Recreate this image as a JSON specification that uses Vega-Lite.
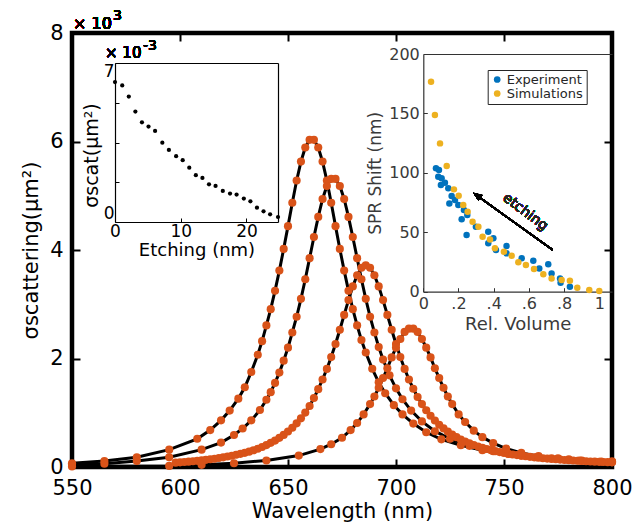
{
  "$schema": "https://vega.github.io/schema/vega-lite/v6.json",
  "width": 540,
  "height": 434,
  "autosize": {"type": "none"},
  "padding": {"left": 72, "top": 33, "right": 21, "bottom": 57},
  "background": "white",
  "config": {
    "font": "DejaVu Sans",
    "view": {"stroke": "black", "strokeWidth": 4.5},
    "axis": {"labelFlush": false, "titleFontWeight": "normal", "grid": false, "labelFont": "DejaVu Sans", "titleFont": "DejaVu Sans", "labelOverlap": false},
    "text": {"font": "DejaVu Sans"}
  },
  "datasets": {
    "spectra": [
      {"c":"1","w":550,"s":0.07},{"c":"1","w":565,"s":0.11},{"c":"1","w":580,"s":0.18},{"c":"1","w":595,"s":0.32},{"c":"1","w":608,"s":0.52},{"c":"1","w":614,"s":0.68},{"c":"1","w":619,"s":0.86},{"c":"1","w":623,"s":1.04},{"c":"1","w":627,"s":1.26},{"c":"1","w":630,"s":1.47},{"c":"1","w":633,"s":1.75},{"c":"1","w":636,"s":2.07},{"c":"1","w":638,"s":2.32},{"c":"1","w":640,"s":2.61},{"c":"1","w":642,"s":2.91},{"c":"1","w":644,"s":3.25},{"c":"1","w":646,"s":3.62},{"c":"1","w":648,"s":4.02},{"c":"1","w":650,"s":4.44},{"c":"1","w":652,"s":4.87},{"c":"1","w":654,"s":5.28},{"c":"1","w":656,"s":5.63},{"c":"1","w":658,"s":5.89},{"c":"1","w":660,"s":6.03},{"c":"1","w":662,"s":6.03},{"c":"1","w":664,"s":5.89},{"c":"1","w":666,"s":5.63},{"c":"1","w":668,"s":5.28},{"c":"1","w":670,"s":4.87},{"c":"1","w":672,"s":4.44},{"c":"1","w":674,"s":4.02},{"c":"1","w":676,"s":3.62},{"c":"1","w":678,"s":3.25},{"c":"1","w":680,"s":2.91},{"c":"1","w":682,"s":2.61},{"c":"1","w":684,"s":2.34},{"c":"1","w":686,"s":2.11},{"c":"1","w":689,"s":1.81},{"c":"1","w":692,"s":1.56},{"c":"1","w":695,"s":1.36},{"c":"1","w":699,"s":1.14},{"c":"1","w":703,"s":0.97},{"c":"1","w":708,"s":0.80},{"c":"1","w":714,"s":0.64},{"c":"1","w":721,"s":0.51},{"c":"1","w":730,"s":0.40},{"c":"1","w":740,"s":0.31},{"c":"1","w":752,"s":0.24},{"c":"1","w":765,"s":0.18},{"c":"1","w":780,"s":0.14},{"c":"1","w":800,"s":0.10},
      {"c":"2","w":550,"s":0.04},{"c":"2","w":565,"s":0.06},{"c":"2","w":580,"s":0.11},{"c":"2","w":595,"s":0.18},{"c":"2","w":610,"s":0.32},{"c":"2","w":619,"s":0.45},{"c":"2","w":625,"s":0.59},{"c":"2","w":629,"s":0.71},{"c":"2","w":633,"s":0.86},{"c":"2","w":637,"s":1.05},{"c":"2","w":640,"s":1.24},{"c":"2","w":642,"s":1.38},{"c":"2","w":644,"s":1.55},{"c":"2","w":646,"s":1.74},{"c":"2","w":648,"s":1.96},{"c":"2","w":650,"s":2.20},{"c":"2","w":652,"s":2.48},{"c":"2","w":654,"s":2.77},{"c":"2","w":656,"s":3.10},{"c":"2","w":658,"s":3.46},{"c":"2","w":660,"s":3.85},{"c":"2","w":662,"s":4.24},{"c":"2","w":664,"s":4.61},{"c":"2","w":666,"s":4.94},{"c":"2","w":668,"s":5.18},{"c":"2","w":670,"s":5.31},{"c":"2","w":672,"s":5.31},{"c":"2","w":674,"s":5.18},{"c":"2","w":676,"s":4.94},{"c":"2","w":678,"s":4.61},{"c":"2","w":680,"s":4.24},{"c":"2","w":682,"s":3.85},{"c":"2","w":684,"s":3.46},{"c":"2","w":686,"s":3.10},{"c":"2","w":688,"s":2.77},{"c":"2","w":690,"s":2.48},{"c":"2","w":692,"s":2.21},{"c":"2","w":694,"s":1.98},{"c":"2","w":697,"s":1.69},{"c":"2","w":700,"s":1.45},{"c":"2","w":703,"s":1.25},{"c":"2","w":707,"s":1.04},{"c":"2","w":712,"s":0.84},{"c":"2","w":718,"s":0.66},{"c":"2","w":725,"s":0.52},{"c":"2","w":734,"s":0.39},{"c":"2","w":745,"s":0.29},{"c":"2","w":758,"s":0.21},{"c":"2","w":772,"s":0.16},{"c":"2","w":786,"s":0.12},{"c":"2","w":800,"s":0.10},
      {"c":"3","w":598,"s":0.080},{"c":"3","w":600,"s":0.086},{"c":"3","w":602,"s":0.092},{"c":"3","w":604,"s":0.098},{"c":"3","w":606,"s":0.105},{"c":"3","w":608,"s":0.113},{"c":"3","w":610,"s":0.122},{"c":"3","w":612,"s":0.132},{"c":"3","w":614,"s":0.142},{"c":"3","w":616,"s":0.153},{"c":"3","w":618,"s":0.165},{"c":"3","w":620,"s":0.178},{"c":"3","w":622,"s":0.193},{"c":"3","w":624,"s":0.208},{"c":"3","w":626,"s":0.225},{"c":"3","w":628,"s":0.242},{"c":"3","w":630,"s":0.261},{"c":"3","w":632,"s":0.283},{"c":"3","w":634,"s":0.308},{"c":"3","w":636,"s":0.337},{"c":"3","w":638,"s":0.368},{"c":"3","w":640,"s":0.404},{"c":"3","w":642,"s":0.445},{"c":"3","w":644,"s":0.487},{"c":"3","w":646,"s":0.538},{"c":"3","w":648,"s":0.592},{"c":"3","w":650,"s":0.654},{"c":"3","w":652,"s":0.724},{"c":"3","w":654,"s":0.805},{"c":"3","w":656,"s":0.897},{"c":"3","w":658,"s":1.003},{"c":"3","w":660,"s":1.125},{"c":"3","w":662,"s":1.272},{"c":"3","w":664,"s":1.435},{"c":"3","w":666,"s":1.613},{"c":"3","w":668,"s":1.808},{"c":"3","w":670,"s":2.026},{"c":"3","w":672,"s":2.268},{"c":"3","w":674,"s":2.530},{"c":"3","w":676,"s":2.804},{"c":"3","w":678,"s":3.077},{"c":"3","w":680,"s":3.329},{"c":"3","w":682,"s":3.535},{"c":"3","w":684,"s":3.672},{"c":"3","w":686,"s":3.720},{"c":"3","w":688,"s":3.672},{"c":"3","w":690,"s":3.535},{"c":"3","w":692,"s":3.329},{"c":"3","w":694,"s":3.077},{"c":"3","w":696,"s":2.804},{"c":"3","w":698,"s":2.530},{"c":"3","w":700,"s":2.268},{"c":"3","w":702,"s":2.026},{"c":"3","w":704,"s":1.808},{"c":"3","w":706,"s":1.613},{"c":"3","w":708,"s":1.442},{"c":"3","w":710,"s":1.291},{"c":"3","w":712,"s":1.160},{"c":"3","w":714,"s":1.045},{"c":"3","w":716,"s":0.944},{"c":"3","w":718,"s":0.856},{"c":"3","w":720,"s":0.779},{"c":"3","w":722,"s":0.711},{"c":"3","w":724,"s":0.651},{"c":"3","w":726,"s":0.598},{"c":"3","w":728,"s":0.550},{"c":"3","w":730,"s":0.508},{"c":"3","w":732,"s":0.470},{"c":"3","w":734,"s":0.436},{"c":"3","w":736,"s":0.406},{"c":"3","w":738,"s":0.378},{"c":"3","w":740,"s":0.354},{"c":"3","w":742,"s":0.331},{"c":"3","w":744,"s":0.310},{"c":"3","w":746,"s":0.292},{"c":"3","w":748,"s":0.275},{"c":"3","w":750,"s":0.259},{"c":"3","w":752,"s":0.244},{"c":"3","w":754,"s":0.231},{"c":"3","w":756,"s":0.219},{"c":"3","w":758,"s":0.208},{"c":"3","w":760,"s":0.197},{"c":"3","w":762,"s":0.187},{"c":"3","w":764,"s":0.178},{"c":"3","w":766,"s":0.170},{"c":"3","w":768,"s":0.162},{"c":"3","w":770,"s":0.155},{"c":"3","w":772,"s":0.148},{"c":"3","w":774,"s":0.142},{"c":"3","w":776,"s":0.136},{"c":"3","w":778,"s":0.130},{"c":"3","w":780,"s":0.125},{"c":"3","w":782,"s":0.120},{"c":"3","w":784,"s":0.115},{"c":"3","w":786,"s":0.111},{"c":"3","w":788,"s":0.106},{"c":"3","w":790,"s":0.102},{"c":"3","w":792,"s":0.099},{"c":"3","w":794,"s":0.095},{"c":"3","w":796,"s":0.092},{"c":"3","w":798,"s":0.089},{"c":"3","w":800,"s":0.086},
      {"c":"4","w":550,"s":0.01},{"c":"4","w":595,"s":0.02},{"c":"4","w":610,"s":0.04},{"c":"4","w":625,"s":0.07},{"c":"4","w":640,"s":0.12},{"c":"4","w":655,"s":0.21},{"c":"4","w":665,"s":0.33},{"c":"4","w":670,"s":0.42},{"c":"4","w":675,"s":0.54},{"c":"4","w":679,"s":0.68},{"c":"4","w":682,"s":0.81},{"c":"4","w":685,"s":0.97},{"c":"4","w":688,"s":1.16},{"c":"4","w":690,"s":1.30},{"c":"4","w":692,"s":1.46},{"c":"4","w":694,"s":1.64},{"c":"4","w":696,"s":1.82},{"c":"4","w":698,"s":2.02},{"c":"4","w":700,"s":2.20},{"c":"4","w":702,"s":2.36},{"c":"4","w":704,"s":2.49},{"c":"4","w":706,"s":2.55},{"c":"4","w":708,"s":2.55},{"c":"4","w":710,"s":2.49},{"c":"4","w":712,"s":2.36},{"c":"4","w":714,"s":2.20},{"c":"4","w":716,"s":2.02},{"c":"4","w":718,"s":1.82},{"c":"4","w":720,"s":1.64},{"c":"4","w":722,"s":1.46},{"c":"4","w":724,"s":1.30},{"c":"4","w":726,"s":1.16},{"c":"4","w":729,"s":0.97},{"c":"4","w":732,"s":0.83},{"c":"4","w":736,"s":0.67},{"c":"4","w":740,"s":0.55},{"c":"4","w":745,"s":0.44},{"c":"4","w":751,"s":0.34},{"c":"4","w":758,"s":0.26},{"c":"4","w":766,"s":0.20},{"c":"4","w":775,"s":0.16},{"c":"4","w":785,"s":0.12},{"c":"4","w":795,"s":0.10},{"c":"4","w":800,"s":0.09}
    ],
    "etch": [
      {"e":0,"v":6.16},{"e":1.1,"v":6.01},{"e":2.1,"v":5.52},{"e":3.1,"v":4.86},{"e":4.1,"v":4.39},{"e":5.1,"v":4.20},{"e":6.1,"v":4.01},{"e":7.2,"v":3.49},{"e":8.2,"v":3.17},{"e":9.3,"v":2.90},{"e":10.3,"v":2.72},{"e":11.3,"v":2.39},{"e":12.3,"v":2.06},{"e":13.3,"v":1.94},{"e":14.3,"v":1.66},{"e":15.3,"v":1.59},{"e":16.4,"v":1.37},{"e":17.5,"v":1.25},{"e":18.5,"v":1.21},{"e":19.6,"v":1.03},{"e":20.6,"v":0.91},{"e":21.6,"v":0.63},{"e":22.6,"v":0.47},{"e":23.6,"v":0.34},{"e":24.8,"v":0.22}
    ],
    "spr": [
      {"series":"Experiment","vol":0.072,"shift":103.8},{"series":"Experiment","vol":0.089,"shift":102.4},{"series":"Experiment","vol":0.085,"shift":96.8},{"series":"Experiment","vol":0.104,"shift":95.4},{"series":"Experiment","vol":0.100,"shift":89.8},{"series":"Experiment","vol":0.123,"shift":91.7},{"series":"Experiment","vol":0.142,"shift":87.0},{"series":"Experiment","vol":0.148,"shift":74.3},{"series":"Experiment","vol":0.161,"shift":80.5},{"series":"Experiment","vol":0.180,"shift":77.1},{"series":"Experiment","vol":0.199,"shift":72.9},{"series":"Experiment","vol":0.218,"shift":60.9},{"series":"Experiment","vol":0.231,"shift":68.7},{"series":"Experiment","vol":0.246,"shift":47.7},{"series":"Experiment","vol":0.250,"shift":64.5},{"series":"Experiment","vol":0.299,"shift":54.7},{"series":"Experiment","vol":0.369,"shift":50.5},{"series":"Experiment","vol":0.369,"shift":40.7},{"series":"Experiment","vol":0.398,"shift":44.9},{"series":"Experiment","vol":0.413,"shift":35.1},{"series":"Experiment","vol":0.473,"shift":38.4},{"series":"Experiment","vol":0.473,"shift":32.3},{"series":"Experiment","vol":0.559,"shift":28.1},{"series":"Experiment","vol":0.625,"shift":26.1},{"series":"Experiment","vol":0.659,"shift":19.6},{"series":"Experiment","vol":0.710,"shift":23.0},{"series":"Experiment","vol":0.729,"shift":15.4},{"series":"Experiment","vol":0.777,"shift":11.2},{"series":"Experiment","vol":0.780,"shift":7.6},{"series":"Experiment","vol":0.833,"shift":4.2},
      {"series":"Simulations","vol":0.044,"shift":176.7},{"series":"Simulations","vol":0.066,"shift":148.7},{"series":"Simulations","vol":0.095,"shift":124.8},{"series":"Simulations","vol":0.133,"shift":105.7},{"series":"Simulations","vol":0.174,"shift":86.1},{"series":"Simulations","vol":0.201,"shift":80.8},{"series":"Simulations","vol":0.227,"shift":72.9},{"series":"Simulations","vol":0.252,"shift":67.3},{"series":"Simulations","vol":0.280,"shift":58.9},{"series":"Simulations","vol":0.313,"shift":54.7},{"series":"Simulations","vol":0.337,"shift":46.3},{"series":"Simulations","vol":0.379,"shift":44.0},{"series":"Simulations","vol":0.407,"shift":36.5},{"series":"Simulations","vol":0.458,"shift":33.7},{"series":"Simulations","vol":0.502,"shift":30.3},{"series":"Simulations","vol":0.540,"shift":24.7},{"series":"Simulations","vol":0.583,"shift":22.4},{"series":"Simulations","vol":0.629,"shift":19.1},{"series":"Simulations","vol":0.682,"shift":14.6},{"series":"Simulations","vol":0.729,"shift":11.2},{"series":"Simulations","vol":0.786,"shift":9.8},{"series":"Simulations","vol":0.833,"shift":9.3},{"series":"Simulations","vol":0.875,"shift":3.4},{"series":"Simulations","vol":0.943,"shift":1.4},{"series":"Simulations","vol":1.0,"shift":0.6}
    ]
  },
  "layer": [
    {
      "data": {"name": "spectra"},
      "layer": [
        {
          "mark": {"type": "line", "color": "black", "strokeWidth": 3},
          "encoding": {
            "x": {"field": "w", "type": "quantitative", "scale": {"domain": [550, 800], "nice": false, "zero": false},
                  "axis": {"orient": "bottom", "values": [550, 600, 650, 700, 750, 800], "domain": false, "tickSize": -8, "tickWidth": 2, "tickColor": "black", "labelFontSize": 21, "labelColor": "black", "labelPadding": 18, "title": "Wavelength (nm)", "titleFontSize": 21, "titleColor": "black", "titlePadding": 2}},
            "y": {"field": "s", "type": "quantitative", "scale": {"domain": [0, 8], "nice": false},
                  "axis": {"orient": "left", "values": [0, 2, 4, 6, 8], "domain": false, "tickSize": -8, "tickWidth": 2, "tickColor": "black", "labelFontSize": 21, "labelColor": "black", "labelPadding": 17, "title": "σscattering(μm²)", "titleFontSize": 21, "titleColor": "black", "titlePadding": 8}},
            "detail": {"field": "c"}
          }
        },
        {
          "mark": {"type": "circle", "color": "#D95319", "size": 66, "opacity": 1},
          "encoding": {
            "x": {"field": "w", "type": "quantitative", "axis": null},
            "y": {"field": "s", "type": "quantitative", "axis": null}
          }
        },
        {
          "mark": {"type": "point", "opacity": 0},
          "encoding": {
            "x": {"field": "w", "type": "quantitative", "axis": {"orient": "top", "values": [550, 600, 650, 700, 750, 800], "domain": false, "labels": false, "tickSize": -8, "tickWidth": 2, "tickColor": "black", "title": null}},
            "y": {"field": "s", "type": "quantitative", "axis": {"orient": "right", "values": [0, 2, 4, 6, 8], "domain": false, "labels": false, "tickSize": -8, "tickWidth": 2, "tickColor": "black", "title": null}}
          }
        },
        {
          "mark": {"type": "text", "text": "× 10", "fontSize": 16, "align": "left", "baseline": "alphabetic", "dx": 1, "dy": -4, "color": "black"},
          "encoding": {"x": {"datum": 550, "type": "quantitative", "axis": null}, "y": {"datum": 8, "type": "quantitative", "axis": null}}
        },
        {
          "mark": {"type": "text", "text": "3", "fontSize": 14, "align": "left", "baseline": "alphabetic", "dx": 41, "dy": -13, "color": "black"},
          "encoding": {"x": {"datum": 550, "type": "quantitative", "axis": null}, "y": {"datum": 8, "type": "quantitative", "axis": null}}
        }
      ],
      "resolve": {"axis": {"x": "independent", "y": "independent"}}
    },
    {
      "data": {"name": "etch"},
      "layer": [
        {
          "mark": {"type": "circle", "color": "black", "size": 18, "opacity": 1},
          "encoding": {
            "x": {"field": "e", "type": "quantitative", "scale": {"domain": [0, 24.8], "range": [43, 206], "nice": false, "zero": false},
                  "axis": {"orient": "bottom", "offset": -245, "values": [0, 10, 20], "domain": true, "domainColor": "black", "domainWidth": 1.2, "tickSize": -4, "tickColor": "black", "labelFontSize": 17, "labelColor": "black", "labelPadding": 5, "title": "Etching (nm)", "titleFontSize": 18, "titleColor": "black", "titlePadding": 2}},
            "y": {"field": "v", "type": "quantitative", "scale": {"domain": [0, 7], "range": [189, 30], "nice": false},
                  "axis": {"orient": "left", "offset": -43, "values": [0, 7], "labelFlush": true, "domain": true, "domainColor": "black", "domainWidth": 1.2, "tickSize": -4, "tickColor": "black", "labelFontSize": 17, "labelColor": "black", "labelPadding": 5, "title": "σscat(μm²)", "titleFontSize": 19, "titleColor": "black", "titlePadding": 2, "titleY": 122}}
          }
        },
        {
          "mark": {"type": "point", "opacity": 0},
          "encoding": {
            "x": {"field": "e", "type": "quantitative", "axis": {"orient": "top", "offset": -30, "domain": true, "domainColor": "black", "domainWidth": 1.2, "labels": false, "ticks": false, "title": null}},
            "y": {"field": "v", "type": "quantitative", "axis": {"orient": "right", "offset": -334, "domain": true, "domainColor": "black", "domainWidth": 1.2, "labels": false, "ticks": false, "title": null}}
          }
        },
        {
          "mark": {"type": "point", "opacity": 0},
          "encoding": {
            "x": {"field": "e", "type": "quantitative", "axis": null},
            "y": {"field": "v", "type": "quantitative", "axis": {"orient": "left", "offset": -43, "values": [1.75, 3.5, 5.25], "domain": false, "labels": false, "tickSize": -4, "tickColor": "black", "title": null}}
          }
        },
        {
          "mark": {"type": "text", "text": "× 10", "fontSize": 15, "align": "left", "baseline": "alphabetic", "dx": -10, "dy": -5, "color": "black"},
          "encoding": {"x": {"datum": 0, "type": "quantitative", "axis": null}, "y": {"datum": 7, "type": "quantitative", "axis": null}}
        },
        {
          "mark": {"type": "text", "text": "-3", "fontSize": 14, "align": "left", "baseline": "alphabetic", "dx": 28, "dy": -13, "color": "black"},
          "encoding": {"x": {"datum": 0, "type": "quantitative", "axis": null}, "y": {"datum": 7, "type": "quantitative", "axis": null}}
        }
      ],
      "resolve": {"axis": {"x": "independent", "y": "independent"}}
    },
    {
      "data": {"name": "spr"},
      "layer": [
        {
          "mark": {"type": "circle", "size": 42, "opacity": 1},
          "encoding": {
            "x": {"field": "vol", "type": "quantitative", "scale": {"domain": [0, 1.0722], "range": [351.3, 540], "nice": false, "zero": false},
                  "axis": {"orient": "bottom", "offset": -175.3, "values": [0, 0.2, 0.4, 0.6, 0.8, 1], "labelExpr": "datum.value == 0 ? '0' : datum.value == 1 ? '1' : replace(format(datum.value, '.1f'), '0.', '.')", "domain": true, "domainColor": "#333333", "domainWidth": 1.2, "tickSize": -4, "tickColor": "#333333", "labelFontSize": 16, "labelColor": "#3a3a3a", "labelPadding": 8, "title": "Rel. Volume", "titleFontSize": 18, "titleColor": "#3a3a3a", "titlePadding": 4}},
            "y": {"field": "shift", "type": "quantitative", "scale": {"domain": [0, 200], "range": [258.7, 21], "nice": false},
                  "axis": {"orient": "left", "offset": -351.3, "values": [0, 50, 100, 150, 200], "domain": true, "domainColor": "#333333", "domainWidth": 1.2, "tickSize": -4, "tickColor": "#333333", "labelFontSize": 16, "labelColor": "#3a3a3a", "labelPadding": 8, "title": "SPR Shift (nm)", "titleFontSize": 17, "titleColor": "#3a3a3a", "titlePadding": 4}},
            "color": {"field": "series", "type": "nominal", "scale": {"domain": ["Experiment", "Simulations"], "range": ["#0072BD", "#EDB120"]},
                      "legend": {"orient": "none", "legendX": 415.7, "legendY": 37, "title": null, "strokeColor": "#262626", "fillColor": "white", "padding": 3, "labelFontSize": 13, "labelColor": "#262626", "symbolSize": 45, "symbolType": "circle", "rowPadding": 0, "labelOffset": 3}}
          }
        },
        {
          "mark": {"type": "point", "opacity": 0},
          "encoding": {
            "x": {"field": "vol", "type": "quantitative", "axis": {"orient": "top", "offset": -21, "domain": true, "domainColor": "#333333", "domainWidth": 1.2, "labels": false, "ticks": false, "title": null}},
            "y": {"field": "shift", "type": "quantitative", "axis": null}
          }
        },
        {
          "mark": {"type": "rule", "color": "black", "strokeWidth": 1.5},
          "encoding": {"x": {"datum": 0.735, "type": "quantitative", "axis": null}, "y": {"datum": 35.1, "type": "quantitative", "axis": null}, "x2": {"datum": 0.29}, "y2": {"datum": 82.5}}
        },
        {
          "mark": {"type": "point", "shape": "M0,0L-0.4,1L0.4,1Z", "filled": true, "color": "black", "size": 300, "angle": 305.8, "opacity": 1},
          "encoding": {"x": {"datum": 0.284, "type": "quantitative", "axis": null}, "y": {"datum": 83.3, "type": "quantitative", "axis": null}}
        },
        {
          "mark": {"type": "text", "text": "etching", "angle": 37, "fontSize": 14, "color": "#262626", "align": "center", "baseline": "middle"},
          "encoding": {"x": {"datum": 0.58, "type": "quantitative", "axis": null}, "y": {"datum": 67, "type": "quantitative", "axis": null}}
        }
      ],
      "resolve": {"axis": {"x": "independent", "y": "independent"}}
    }
  ],
  "resolve": {"scale": {"x": "independent", "y": "independent", "color": "independent"}, "axis": {"x": "independent", "y": "independent"}}
}
